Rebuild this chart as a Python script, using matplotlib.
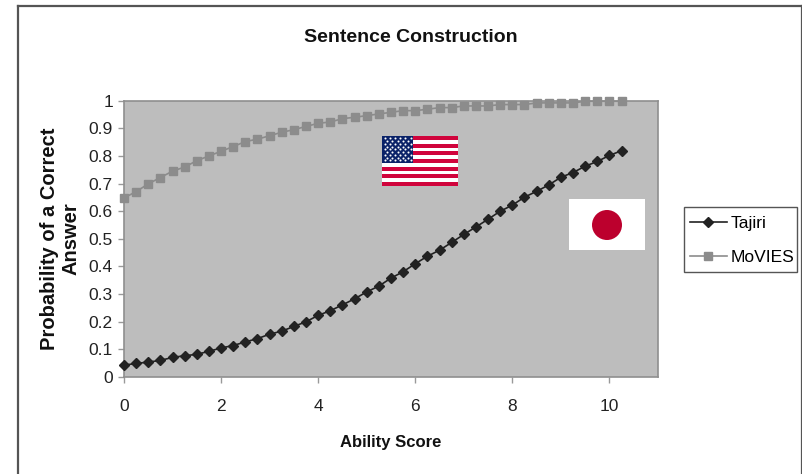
import numpy as np
import matplotlib
matplotlib.use('Agg')
import matplotlib.pyplot as plt
from matplotlib.lines import Line2D
from matplotlib.patches import Rectangle, Circle

plt.rcParams['font.family'] = ['Liberation Sans', 'DejaVu Sans']

W, H = 803, 474

ability = np.arange(42) * 0.25
tajiri = [.043, .049, .054, .060, .071, .077, .082, .093, .105, .114, .127, .139, .155, .166,
          .183, .200, .223, .240, .261, .283, .308, .329, .358, .381, .410, .437, .459, .487,
          .516, .543, .571, .600, .622, .651, .672, .695, .723, .740, .763, .780, .802, .819]
movies = [.648, .671, .699, .722, .745, .760, .783, .800, .817, .834, .852, .861, .873, .886,
          .895, .907, .918, .923, .935, .940, .946, .952, .958, .964, .964, .969, .975, .975,
          .981, .981, .981, .986, .986, .986, .992, .992, .992, .992, .998, .998, .998, .998]
xticks = [0, 2, 4, 6, 8, 10]
yticks = [0, .1, .2, .3, .4, .5, .6, .7, .8, .9, 1]
yticklabels = ['0', '0.1', '0.2', '0.3', '0.4', '0.5', '0.6', '0.7', '0.8', '0.9', '1']


def px_axes(x0, y0, x1, y1, **kw):
    # pixel box measured from the top left of the picture
    return fig.add_axes([x0 / W, 1 - y1 / H, (x1 - x0) / W, (y1 - y0) / H], **kw)


fig = plt.figure(figsize=(W / 100, H / 100), dpi=100, facecolor='white')

# outer frame, the bottom edge is cut off in the original
for xs, ys in [((18, 18), (6, 474)), ((18, 802), (6, 6)), ((802, 802), (6, 474))]:
    fig.add_artist(Line2D([x / W for x in xs], [1 - y / H for y in ys], color='#555555', lw=1.6))

ax = px_axes(124, 100.7, 658, 377)
ax.set_facecolor('#bdbdbd')
ax.plot(ability, movies, color='#8c8c8c', lw=1.2, marker='s', ms=5.6, mec='#8c8c8c',
        label='MoVIES', clip_on=False, zorder=3)
ax.plot(ability, tajiri, color='#222222', lw=1.2, marker='D', ms=5.2, mec='#222222',
        label='Tajiri', clip_on=False, zorder=4)
ax.set_xlim(0, 11)
ax.set_ylim(0, 1)
ax.set_xticks(xticks)
ax.set_yticks(yticks)
ax.set_yticklabels(yticklabels)
ax.tick_params(axis='both', labelsize=12.5, length=4, width=1, color='#999999',
               labelcolor='#222222')
ax.tick_params(axis='x', pad=12)
ax.tick_params(axis='y', pad=4)
for s in ax.spines.values():
    s.set_color('#8f8f8f')
    s.set_linewidth(1.2)

ax.set_xlabel('Ability Score', fontsize=12, fontweight='bold', color='#111111', labelpad=15)
ax.set_ylabel('Probability of a Correct\nAnswer', fontsize=14.5, fontweight='bold',
              color='#111111', labelpad=6, linespacing=1.15)
fig.text(410.5 / W, 1 - 38 / H, 'Sentence Construction', fontsize=14, fontweight='bold',
         color='#111111', ha='center', va='center')

# legend box is its own patch, the text sits closer to its right edge than a legend frame allows
fig.add_artist(Rectangle((684 / W, 1 - 272 / H), 113 / W, 65 / H, transform=fig.transFigure,
                         facecolor='white', edgecolor='#555555', lw=1.0))
handles, labels = ax.get_legend_handles_labels()
leg = fig.legend(handles[::-1], labels[::-1], loc='upper left', bbox_to_anchor=(684 / W, 1 - 210 / H),
                 fontsize=12.5, frameon=False, borderpad=0.35, labelspacing=1.1, handlelength=2.1,
                 handletextpad=0.25, borderaxespad=0)

# US flag
us = px_axes(382, 136, 458, 186)
us.set_xlim(0, 76)
us.set_ylim(50, 0)
us.axis('off')
for i in range(13):
    us.add_patch(Rectangle((0, i * 50 / 13), 76, 50 / 13,
                           color='#d0043c' if i % 2 == 0 else 'white', lw=0))
us.add_patch(Rectangle((0, 0), 31, 27, color='#0a2268', lw=0))
sx, sy = [], []
for r in range(9):
    for c in range(6 if r % 2 == 0 else 5):
        sx.append(2.6 + c * 5.2 + (0 if r % 2 == 0 else 2.6))
        sy.append(2.5 + r * 2.75)
us.scatter(sx, sy, s=2.2, color='white', lw=0)

# Japanese flag
jp = px_axes(569, 199, 645, 250)
jp.set_xlim(0, 76)
jp.set_ylim(51, 0)
jp.axis('off')
jp.add_patch(Rectangle((0, 0), 76, 51, color='white', lw=0))
jp.add_patch(Circle((38, 26), 15, color='#bc002d', lw=0))

fig.savefig('out.png', dpi=100, facecolor='white')
